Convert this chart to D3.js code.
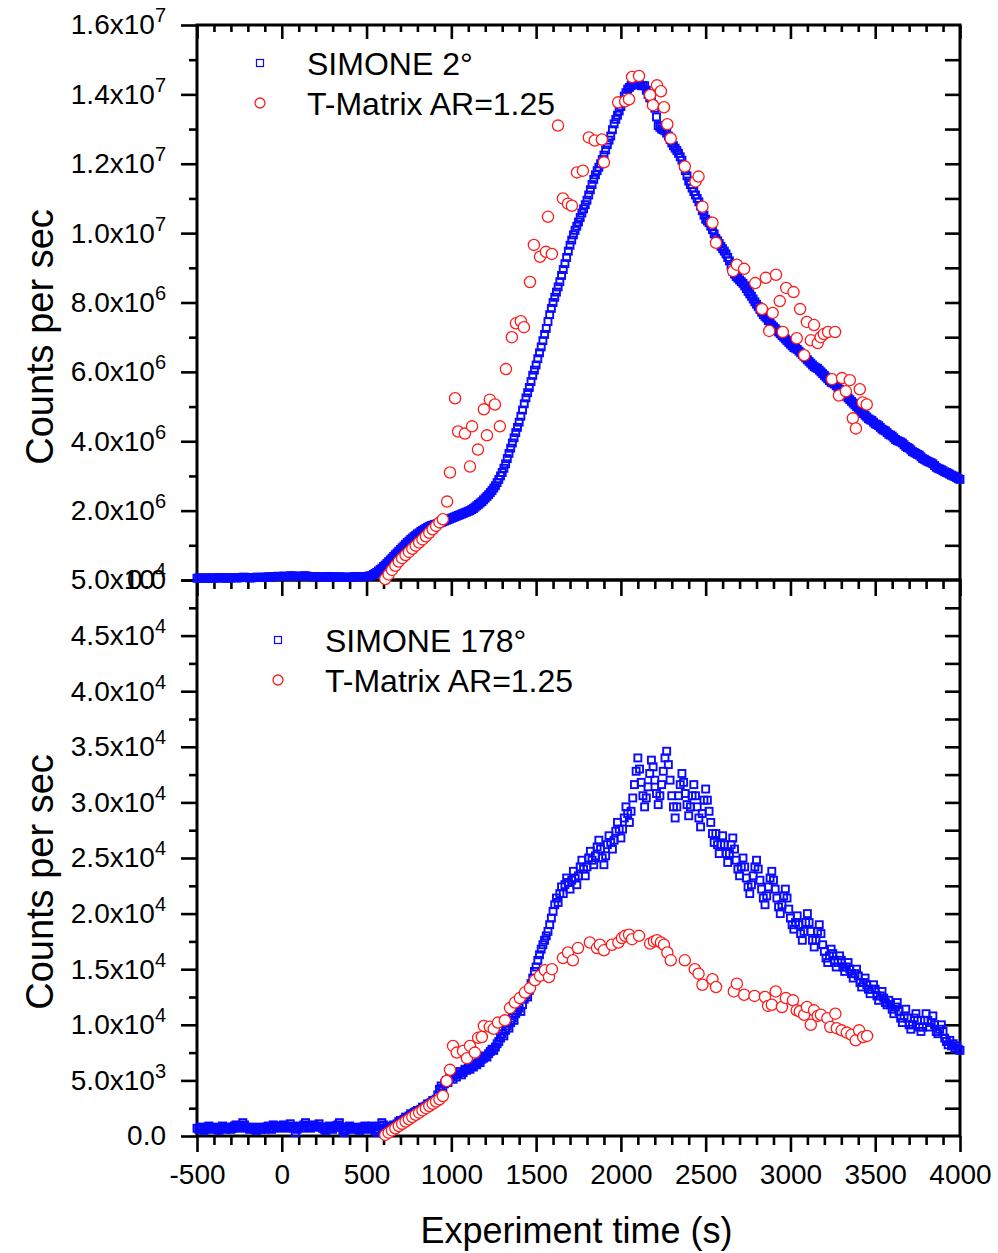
<!DOCTYPE html>
<html>
<head>
<meta charset="utf-8">
<script src="https://d3js.org/d3.v7.min.js"></script>
<style>
 body{margin:0;background:#fff}
 text{font-family:"Liberation Sans",Arial,Helvetica,sans-serif;fill:#000}
</style>
</head>
<body>
<script>
// SIMONE 2 deg : counts per sec in units of 1e5, one reading every 10 s starting at -500 s
var simFwdStart = -500, simFwdStep = 10;
var simFwd = [
 0.5,0.6,0.6,0.5,0.5,0.6,0.6,0.5,0.5,0.6,
 0.5,0.6,0.6,0.7,0.7,0.6,0.6,0.5,0.6,0.6,
 0.6,0.7,0.7,0.6,0.6,0.7,0.7,0.8,0.8,0.7,
 0.7,0.6,0.6,0.7,0.7,0.8,0.8,0.7,0.7,0.8,
 0.8,0.8,0.9,0.9,0.8,0.9,1.0,1.0,1.1,1.0,
 1.0,1.1,1.1,1.0,1.0,1.2,1.2,1.1,1.1,1.0,
 1.0,1.1,1.1,1.2,1.2,1.1,1.0,1.0,0.9,1.0,
 1.0,0.9,0.9,0.9,0.8,0.8,0.9,1.0,1.0,0.9,
 0.9,0.9,0.8,0.8,0.9,0.9,0.8,0.8,0.7,0.8,
 0.8,0.8,0.9,0.9,1.0,1.0,0.9,0.9,1.0,1.0,
 1.0,1.1,1.2,1.3,1.6,1.9,2.2,2.6,3.0,3.4,
 3.9,4.3,4.8,5.3,5.8,6.3,6.8,7.3,7.8,8.3,
 8.8,9.3,9.8,10.3,10.8,11.2,11.7,12.1,12.5,12.9,
 13.3,13.6,14.0,14.3,14.6,14.9,15.2,15.4,15.7,15.8,
 16.0,16.1,16.3,16.4,16.6,16.8,17.0,17.2,17.4,17.6,
 17.8,18.0,18.2,18.4,18.6,18.8,19.0,19.2,19.4,19.6,
 19.8,20.0,20.3,20.6,21.0,21.4,21.8,22.2,22.6,23.1,
 23.6,24.1,24.6,25.2,25.8,26.5,27.2,28.1,29.0,30.0,
 31.0,32.2,33.5,35.0,36.5,38.0,39.5,41.0,42.5,44.0,
 45.5,47.2,49.0,50.8,52.5,54.0,55.5,57.2,59.0,60.5,
 62.0,63.8,65.5,67.2,69.0,70.8,72.5,74.5,76.5,78.3,
 80.0,81.5,83.0,84.5,86.0,87.8,89.5,91.2,93.0,94.8,
 96.5,98.0,99.5,100.8,102.0,103.2,104.5,105.8,107.0,108.2,
 109.5,111.0,112.5,114.0,115.5,116.8,118.0,119.0,120.0,121.2,
 122.5,124.0,125.5,126.8,128.0,129.8,131.5,132.8,134.0,135.2,
 136.5,138.0,139.5,140.5,141.5,142.0,142.5,142.8,143.0,143.0,
 143.0,142.8,142.5,142.5,142.5,141.2,140.0,139.0,138.0,137.0,
 136.0,133.5,131.0,130.5,130.0,129.8,129.5,128.8,128.0,127.0,
 126.0,125.2,124.5,123.8,123.0,122.0,121.0,119.5,118.0,116.5,
 115.0,114.0,113.0,112.0,111.0,110.0,109.0,107.8,106.5,105.2,
 104.0,103.5,103.0,102.0,101.0,99.8,98.5,97.8,97.0,96.2,
 95.5,94.8,94.0,93.0,92.0,90.5,89.0,88.2,87.5,87.0,
 86.5,86.0,85.5,84.8,84.0,83.2,82.5,81.8,81.0,80.2,
 79.5,78.8,78.0,77.2,76.5,76.0,75.5,74.8,74.0,73.5,
 73.0,72.5,72.0,71.5,71.0,70.5,70.0,69.5,69.0,68.5,
 68.0,67.5,67.0,66.8,66.5,66.0,65.5,65.0,64.5,64.0,
 63.5,63.0,62.5,62.0,61.5,61.2,61.0,60.5,60.0,59.5,
 59.0,58.5,58.0,57.5,57.0,56.8,56.5,56.0,55.5,55.0,
 54.5,54.0,53.5,53.0,52.5,52.0,51.5,51.0,50.5,50.0,
 49.5,49.0,48.5,48.0,47.5,47.0,46.5,46.2,46.0,45.5,
 45.0,44.8,44.5,44.0,43.5,43.2,43.0,42.5,42.0,41.8,
 41.5,41.0,40.5,40.2,40.0,39.8,39.5,39.0,38.5,38.2,
 38.0,37.5,37.0,36.8,36.5,36.2,36.0,35.5,35.0,34.8,
 34.5,34.2,34.0,33.8,33.5,33.0,32.5,32.2,32.0,31.8,
 31.5,31.2,31.0,30.8,30.5,30.2,30.0,29.8,29.5,29.2,
 29.0
];

// T-Matrix AR=1.25 at 2 deg : time (s) and counts per sec in units of 1e5
var tmFwdTime = [610,630,650,670,690,710,730,750,770,790,810,830,850,870,890,910,930,950,
 975,992,1022,1040,1080,1110,1122,1157,1192,1210,1227,1257,1286,1322,1357,1381,1410,1428,1464,1487,
 1523,1558,1570,1593,1629,1658,1688,1711,1741,1776,1811,1846,1888,1900,1984,2025,2048,2066,2107,
 2172,2189,2213,2236,2254,2274,2294,2377,2440,2458,2481,2540,2561,2662,2684,2727,2792,2832,2855,
 2875,2895,2915,2937,2955,2975,3018,3037,3057,3081,3097,3120,3139,3161,3178,3197,3222,3263,3245,
 3286,3304,3327,3350,3368,3386,3409,3426,3450];
var tmFwdCounts = [0.3,1.6,2.9,4.1,5.3,6.3,7.2,8.1,9.0,9.9,10.8,11.7,12.6,13.6,14.6,15.6,16.6,17.5,
 22.6,31.0,52.4,42.8,42.2,32.7,44.3,37.6,49.2,41.7,52.0,50.6,44.3,60.8,70.0,74.0,74.6,72.9,85.9,96.6,
 93.2,94.6,104.7,94.0,131.0,110.0,108.5,107.9,117.5,118.0,127.6,126.7,127.0,120.4,137.7,138.0,138.6,145.0,145.3,
 139.8,136.9,142.6,140.9,136.3,131.4,127.3,119.2,114.9,116.3,107.6,103.0,97.2,89.1,90.9,89.7,85.6,78.1,87.1,
 71.8,77.0,88.0,80.4,71.5,84.2,83.0,69.7,78.1,64.8,74.4,69.1,73.5,68.3,70.0,70.9,71.5,71.5,57.9,
 53.2,58.2,54.4,57.6,46.6,43.7,55.0,51.2,50.6];

// SIMONE 178 deg : counts per sec in units of 100, one reading every 10 s starting at -500 s
var simBackStart = -500, simBackStep = 10;
var simBack = [
 7,6,8,7,5,6,8,9,7,6,
 7,8,6,5,7,9,8,6,7,8,
 6,7,9,10,8,7,9,12,10,8,
 7,6,8,7,6,5,7,8,6,7,
 6,8,9,7,6,10,9,8,7,9,
 8,10,9,7,8,11,9,7,3,6,
 8,9,7,10,12,9,8,7,9,10,
 8,9,11,8,7,6,5,8,9,7,
 6,8,9,10,12,8,5,3,6,8,
 9,7,6,7,8,6,5,7,8,9,
 8,6,7,9,8,5,3,6,9,12,
 10,7,5,6,8,9,10,9,11,13,
 14,13,15,17,16,18,20,19,21,22,
 23,22,24,26,25,27,29,28,30,32,
 31,33,37,42,45,43,47,50,48,52,
 54,51,55,53,56,58,55,57,60,59,
 61,60,63,62,65,64,67,66,69,70,
 72,71,74,76,78,77,80,83,85,88,
 92,90,95,99,97,102,106,104,110,113,
 115,112,118,123,127,125,131,137,142,148,
 152,158,163,168,172,176,180,184,190,196,
 202,208,214,210,218,224,218,226,232,228,
 222,230,238,232,226,234,242,248,240,234,
 242,250,256,248,244,252,260,266,258,250,
 244,252,262,270,264,258,266,274,282,276,
 268,276,286,296,290,282,292,304,316,328,
 340,330,318,306,296,304,314,326,338,332,
 320,308,298,306,316,328,340,346,334,320,
 306,296,286,296,306,316,326,318,308,298,
 288,296,306,316,306,296,286,278,290,302,
 312,302,292,282,272,264,272,262,254,262,
 270,262,254,246,254,262,268,258,248,240,
 234,242,250,242,232,224,218,226,234,242,
 248,240,230,222,214,208,216,224,232,238,
 230,222,214,206,200,208,216,222,214,204,
 196,190,186,192,198,190,182,176,184,192,
 200,192,184,176,170,176,184,190,182,172,
 166,160,156,162,168,164,158,152,156,162,
 158,152,148,152,156,150,146,142,146,150,
 144,138,134,138,142,136,132,128,132,136,
 132,126,122,126,130,124,120,118,122,118,
 114,110,116,120,112,106,102,108,114,106,
 100,96,100,106,110,104,98,94,98,104,
 110,104,98,102,108,100,94,92,96,100,
 94,88,85,82,86,81,83,79,81,78,
 77
];

// T-Matrix AR=1.25 at 178 deg : time (s) and counts per sec in units of 100
var tmBackTime = [610,630,650,670,690,710,730,750,770,790,810,830,850,870,890,910,930,950,
 972,992,1010,1032,1069,1092,1110,1139,1158,1180,1192,1227,1250,1275,1316,1346,1375,1404,1434,1464,
 1493,1523,1552,1576,1593,1658,1688,1717,1747,1817,1859,1876,1900,1947,1985,2006,2025,2048,2066,
 2107,2172,2195,2213,2236,2254,2274,2294,2377,2436,2458,2481,2540,2561,2666,2684,2727,2788,2850,
 2868,2890,2913,2950,2973,3015,3037,3055,3081,3097,3120,3139,3161,3180,3218,3235,3265,3273,3302,
 3332,3360,3385,3405,3429,3452];
var tmBackCounts = [1,3,5,7,9,11,13,15,17,19,21,23,25,27,29,31,33,36,
 49.5,59.5,81,75,76.5,70,81,75,88.3,89,99,98.2,96.4,102,104,115,120,124,129,133,
 140,144,149,143,150,160,165,158,169,174,169,172,167,172,174,178,180,181,177,
 180,173,175,176,174,172,165,158,158,150,146,136,141,134,130,137,127,126,125,
 117,118,130,116,124,122,113,112,109,116,100,113,108,109,106,98,110,97,95,
 93,91,86,95,89,90];

// axis ticks
var xMajor = [-500,0,500,1000,1500,2000,2500,3000,3500,4000];
var xMinor = d3.range(-400,4000,100).filter(function(v){ return v % 500 !== 0; });
var yFwdMajor = [0,2e6,4e6,6e6,8e6,1e7,1.2e7,1.4e7,1.6e7];
var yFwdMinor = [1e6,3e6,5e6,7e6,9e6,1.1e7,1.3e7,1.5e7];
var yBackMajor = [0,5e3,1e4,1.5e4,2e4,2.5e4,3e4,3.5e4,4e4,4.5e4,5e4];
var yBackMinor = [2.5e3,7.5e3,1.25e4,1.75e4,2.25e4,2.75e4,3.25e4,3.75e4,4.25e4,4.75e4];

var fwdUnit = 1e5, backUnit = 100;
var blue = "#0a0aff", red = "#ff1a1a";

var W = 998, H = 1253;
var left = 197, right = 960, top1 = 25, mid = 580, bot = 1136;

var svg = d3.select("body").append("svg").attr("width",W).attr("height",H);
svg.append("rect").attr("width",W).attr("height",H).attr("fill","#fff");

var x = d3.scaleLinear().domain([-500,4000]).range([left,right]);
var yF = d3.scaleLinear().domain([0,1.6e7]).range([mid,top1]);
var yB = d3.scaleLinear().domain([0,5e4]).range([bot,mid]);

function sci(v){
  if(v===0) return ["0.0",""];
  var e = Math.floor(Math.log10(v)+1e-9);
  return [(v/Math.pow(10,e)).toFixed(1)+"x10", String(e)];
}

function styleAxis(g){
  g.select(".domain").remove();
  g.selectAll(".tick line").attr("stroke","#000").attr("stroke-width",2.6);
  g.selectAll(".tick text").attr("fill","#000").attr("font-size",28)
   .attr("font-family","Liberation Sans, Arial, sans-serif");
}

function supLabels(g){
  g.selectAll(".tick text").each(function(d){
    var t = d3.select(this), s = sci(d);
    t.text(null);
    t.append("tspan").text(s[0]);
    if(s[1]) t.append("tspan").attr("dy",-12).attr("font-size",20).text(s[1]);
  });
}

function frameAxes(yS, major, minor, rightTicks, yTop, yBot, drawTop, drawBottomLabels){
  // left
  svg.append("g").attr("transform","translate("+left+",0)")
    .call(d3.axisLeft(yS).tickValues(major).tickSize(16).tickPadding(15).tickSizeOuter(0))
    .call(styleAxis).call(supLabels);
  svg.append("g").attr("transform","translate("+left+",0)")
    .call(d3.axisLeft(yS).tickValues(minor).tickSize(8).tickFormat("").tickSizeOuter(0))
    .call(styleAxis);
  // right, inward
  svg.append("g").attr("transform","translate("+right+",0)")
    .call(d3.axisRight(yS).tickValues(rightTicks).tickSize(-15).tickFormat("").tickSizeOuter(0))
    .call(styleAxis);
  if(drawTop){
    svg.append("g").attr("transform","translate(0,"+yTop+")")
      .call(d3.axisTop(x).tickValues(xMajor).tickSize(-14).tickFormat("").tickSizeOuter(0))
      .call(styleAxis);
    svg.append("g").attr("transform","translate(0,"+yTop+")")
      .call(d3.axisTop(x).tickValues(xMinor).tickSize(-7).tickFormat("").tickSizeOuter(0))
      .call(styleAxis);
  }
  var bx = svg.append("g").attr("transform","translate(0,"+yBot+")")
    .call(d3.axisBottom(x).tickValues(xMajor).tickSize(16).tickPadding(12).tickSizeOuter(0)
      .tickFormat(function(d){ return String(d); }))
    .call(styleAxis);
  if(!drawBottomLabels) bx.selectAll(".tick text").remove();
  svg.append("g").attr("transform","translate(0,"+yBot+")")
    .call(d3.axisBottom(x).tickValues(xMinor).tickSize(9).tickFormat("").tickSizeOuter(0))
    .call(styleAxis);
  svg.append("rect").attr("x",left).attr("y",yTop).attr("width",right-left).attr("height",yBot-yTop)
    .attr("fill","none").attr("stroke","#000").attr("stroke-width",3);
}

// --- data ---
var sq = 7;
function squares(data, yS){
  svg.append("g").selectAll("rect").data(data).enter().append("rect")
    .attr("x",function(d){ return x(d.t)-sq/2; })
    .attr("y",function(d){ return yS(d.v)-sq/2; })
    .attr("width",sq).attr("height",sq)
    .attr("fill","none").attr("stroke",blue).attr("stroke-width",1.9);
}
function circles(data, yS){
  svg.append("g").selectAll("circle").data(data).enter().append("circle")
    .attr("cx",function(d){ return x(d.t); })
    .attr("cy",function(d){ return yS(d.v); })
    .attr("r",5.6)
    .attr("fill","#fff").attr("stroke",red).attr("stroke-width",1.3);
}

var fwdSim = simFwd.map(function(v,i){ return {t: simFwdStart+i*simFwdStep, v: v*fwdUnit}; });
var backSim = simBack.map(function(v,i){ return {t: simBackStart+i*simBackStep, v: v*backUnit}; });
var fwdTm = tmFwdTime.map(function(t,i){ return {t:t, v: tmFwdCounts[i]*fwdUnit}; });
var backTm = tmBackTime.map(function(t,i){ return {t:t, v: tmBackCounts[i]*backUnit}; });

frameAxes(yF, yFwdMajor, yFwdMinor, d3.range(1e6,1.6e7,1e6), top1, mid, true, false);
frameAxes(yB, yBackMajor, yBackMinor, d3.range(2500,5e4,2500), mid, bot, false, true);

squares(fwdSim, yF);
circles(fwdTm, yF);
squares(backSim, yB);
circles(backTm, yB);

// legends
function legend(lx, ly, label1, label2){
  svg.append("rect").attr("x",lx-3.5).attr("y",ly-3.5).attr("width",7).attr("height",7)
    .attr("fill","none").attr("stroke",blue).attr("stroke-width",1.2);
  svg.append("circle").attr("cx",lx).attr("cy",ly+40).attr("r",5)
    .attr("fill","none").attr("stroke",red).attr("stroke-width",1.3);
  svg.append("text").attr("x",lx+47).attr("y",ly+12).attr("font-size",32).text(label1);
  svg.append("text").attr("x",lx+47).attr("y",ly+52).attr("font-size",32).text(label2);
}
legend(260, 63, "SIMONE 2°", "T-Matrix AR=1.25");
legend(278, 640, "SIMONE 178°", "T-Matrix AR=1.25");

// axis titles
svg.append("text").attr("x",(left+right)/2-2).attr("y",1243).attr("text-anchor","middle")
  .attr("font-size",36).text("Experiment time (s)");
svg.append("text").attr("transform","translate(53,337) rotate(-90)").attr("text-anchor","middle")
  .attr("font-size",38).text("Counts per sec");
svg.append("text").attr("transform","translate(53,882) rotate(-90)").attr("text-anchor","middle")
  .attr("font-size",38).text("Counts per sec");
</script>
</body>
</html>
